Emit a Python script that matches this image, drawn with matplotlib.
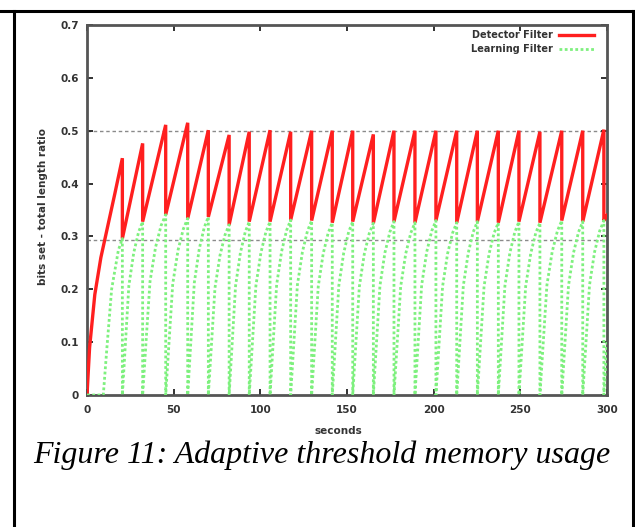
import matplotlib
matplotlib.use("Agg")
import matplotlib.pyplot as plt
from matplotlib.lines import Line2D

# ---------------- data ----------------
reset_t = [20.4, 32.1, 45.4, 58.1, 70.0, 82.0, 93.6, 105.6, 117.5, 129.6, 141.5, 153.3,
           165.2, 177.1, 189.2, 201.3, 213.3, 225.2, 237.3, 249.2, 261.3, 273.9, 286.0, 298.2]
red_peak = [0.448, 0.476, 0.511, 0.515, 0.501, 0.492, 0.498, 0.501, 0.498, 0.500, 0.500, 0.500,
            0.493, 0.500, 0.500, 0.500, 0.500, 0.500, 0.500, 0.500, 0.498, 0.500, 0.500, 0.502]
red_trough = [0.296, 0.328, 0.341, 0.334, 0.337, 0.322, 0.328, 0.328, 0.331, 0.330, 0.326, 0.328,
              0.325, 0.328, 0.326, 0.330, 0.326, 0.328, 0.326, 0.328, 0.326, 0.330, 0.328, 0.330]

red_start_t = [0, 1.5, 4.5, 8.0, 12.0, 16.0]
red_start_v = [0, 0.09, 0.19, 0.26, 0.32, 0.38]
red_end_t = 300
red_end_v = 0.34

green_start_t = [0, 9.4, 11.5, 14.2, 18.1]
green_start_v = [0, 0, 0.09, 0.20, 0.274]
# shape of one learning-filter fill cycle (fraction of cycle time, fraction of final value)
green_shape_t = [0, 0.17, 0.32, 0.56, 0.80, 1.0]
green_shape_v = [0, 0.34, 0.63, 0.82, 0.94, 1.0]
green_end_t = 300
green_end_v = 0.10

thresholds = [0.5, 0.293]

x_ticks = [0, 50, 100, 150, 200, 250, 300]
y_ticks = [0, 0.1, 0.2, 0.3, 0.4, 0.5, 0.6, 0.7]
y_ticklabels = ["0", "0.1", "0.2", "0.3", "0.4", "0.5", "0.6", "0.7"]

# ---------------- build series ----------------
rx = list(red_start_t)
ry = list(red_start_v)
for t, pk, tr in zip(reset_t, red_peak, red_trough):
    rx += [t, t]
    ry += [pk, tr]
rx.append(red_end_t)
ry.append(red_end_v)

gx = list(green_start_t)
gy = list(green_start_v)
gx.append(reset_t[0]); gy.append(red_trough[0])
for i in range(len(reset_t) - 1):
    t0, t1 = reset_t[i], reset_t[i + 1]
    top = red_trough[i + 1]
    for ft, fv in zip(green_shape_t, green_shape_v):
        gx.append(t0 + ft * (t1 - t0))
        gy.append(fv * top)
gx += [reset_t[-1], green_end_t]
gy += [0, green_end_v]

# ---------------- figure ----------------
W, H = 635, 527
fig = plt.figure(figsize=(W / 100, H / 100), dpi=100)
fig.patch.set_facecolor("white")

# page frame lines
frame_kw = dict(color="black", lw=2.2, transform=fig.transFigure)
fig.add_artist(Line2D([0, 633 / W], [1 - 11 / H, 1 - 11 / H], **frame_kw))
fig.add_artist(Line2D([14 / W, 14 / W], [0, 1 - 11 / H], **frame_kw))
fig.add_artist(Line2D([633 / W, 633 / W], [0, 1 - 11 / H], **frame_kw))

ax = fig.add_axes([87 / W, 1 - 395 / H, (607 - 87) / W, (395 - 25) / H])

for th in thresholds:
    ax.axhline(th, color="#8a8a8a", lw=1.0, ls=(0, (2.5, 2)), zorder=1)

ax.plot(rx, ry, color="#ff1f1f", lw=2.4, label="Detector Filter", zorder=3,
        solid_joinstyle="miter")
ax.plot(gx, gy, color="#7ef07e", lw=2.0, ls=(0, (1.0, 0.9)), label="Learning Filter", zorder=4)

ax.set_xlim(0, 300)
ax.set_ylim(0, 0.7)
ax.set_xticks(x_ticks)
ax.set_xticklabels([str(v) for v in x_ticks])
ax.set_yticks(y_ticks)
ax.set_yticklabels(y_ticklabels)

for s in ax.spines.values():
    s.set_color("#555555")
    s.set_linewidth(2.0)

ax.tick_params(direction="in", length=4, width=1.3, color="#222222",
               top=True, right=True, labelsize=7.5, labelcolor="#333333")
for lab in ax.get_xticklabels() + ax.get_yticklabels():
    lab.set_fontweight("bold")
ax.tick_params(axis="x", pad=7)
ax.tick_params(axis="y", pad=6)

ax.set_xlabel("seconds", fontsize=7.5, fontweight="bold", color="#333333")
ax.xaxis.set_label_coords(0.483, -0.085)
ax.set_ylabel("bits set - total length ratio", fontsize=7.5, fontweight="bold", color="#333333")
ax.yaxis.set_label_coords(-0.075, 0.51)

leg = ax.legend(loc="upper right", bbox_to_anchor=(594 / W, 1 - 30 / H),
                bbox_transform=fig.transFigure, frameon=False, markerfirst=False,
                handlelength=3.6, handletextpad=0.6, borderpad=0, borderaxespad=0,
                labelspacing=0.45, prop=dict(size=7, weight="bold"))
for t in leg.get_texts():
    t.set_color("#333333")

fig.text(322 / W, 1 - 455 / H, "Figure 11: Adaptive threshold memory usage",
         ha="center", va="center", fontsize=23, style="italic",
         family="Liberation Serif", color="black")

fig.savefig("out.png", dpi=100)
